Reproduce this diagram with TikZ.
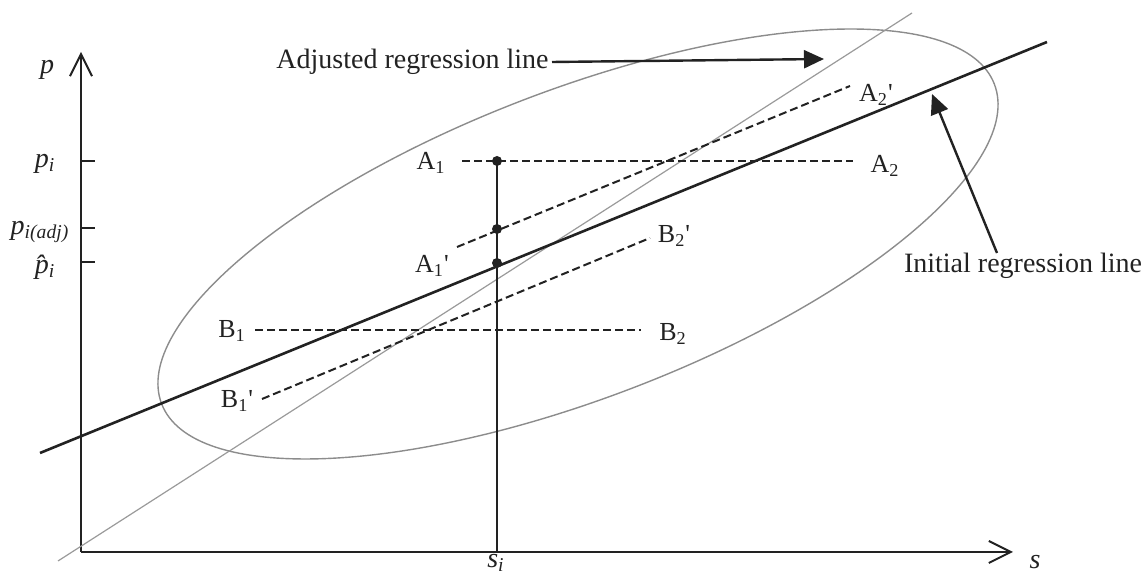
\documentclass[tikz,border=0pt]{standalone}
\usepackage{fontspec}
\setmainfont{Liberation Serif}
\usetikzlibrary{arrows.meta}
\definecolor{ink}{HTML}{222222}
\definecolor{lightline}{HTML}{9A9A9A}
\definecolor{ellcol}{HTML}{8C8C8C}
\begin{document}
\begin{tikzpicture}[x=0.5pt,y=-0.5pt,
  lbl/.style={inner sep=0pt, text=ink, font=\fontsize{13}{15}\selectfont},
  ann/.style={inner sep=0pt, text=ink, font=\fontsize{14}{16}\selectfont},
  axislbl/.style={inner sep=0pt, text=ink, font=\fontsize{14}{16}\selectfont\itshape},
  axisline/.style={draw=ink, line width=1pt, -{Straight Barb[length=11pt,width=11pt,line width=1pt]}},
  tickline/.style={draw=ink, line width=0.9pt},
  initline/.style={draw=ink, line width=1.3pt},
  adjline/.style={draw=lightline, line width=0.6pt},
  dashline/.style={draw=ink, line width=1pt, dash pattern=on 4pt off 2pt},
  ellline/.style={draw=ellcol, line width=0.7pt},
  pointer/.style={draw=ink, line width=1.2pt, -{Triangle[length=10pt,width=9pt]}},
  dot/.style={circle, fill=ink, inner sep=0pt, minimum size=5pt},
]
\useasboundingbox (0,0) rectangle (1148,576);

% axes
\coordinate (O) at (81,552);
\coordinate (ytop) at (81,52);
\coordinate (xend) at (1013,552);
\draw[axisline] (O) -- (ytop);
\draw[axisline] (O) -- (xend);
\node[axislbl] (plbl) at (47,70) {p};
\node[axislbl] (slbl) at (1035,562) {s};
\node[axislbl] (silbl) at (496,563) {s\textsubscript{i}};

% ticks and labels on p-axis
\coordinate (t1a) at (81,161); \coordinate (t1b) at (95,161);
\coordinate (t2a) at (81,228); \coordinate (t2b) at (95,228);
\coordinate (t3a) at (81,262); \coordinate (t3b) at (95,262);
\draw[tickline] (t1a) -- (t1b);
\draw[tickline] (t2a) -- (t2b);
\draw[tickline] (t3a) -- (t3b);
\node[axislbl] (pi) at (45,164) {p\textsubscript{i}};
\node[axislbl] (piadj) at (40,232) {p\textsubscript{i(adj)}};
\node[axislbl] (phat) at (45,267) {\^{p}\textsubscript{i}};

% ellipse
\coordinate (ec) at (578,244);
\draw[ellline, rotate around={21:(ec)}] (ec) ellipse [x radius=223pt, y radius=77pt];

% adjusted regression line (thin grey)
\coordinate (g1) at (58,561);
\coordinate (g2) at (912,13);
\draw[adjline] (g1) -- (g2);

% initial regression line (thick)
\coordinate (r1) at (40,453);
\coordinate (r2) at (1047,42);
\draw[initline] (r1) -- (r2);

% vertical at s_i with dots
\node[dot] (dA) at (497,161) {};
\node[dot] (dM) at (497,229) {};
\node[dot] (dB) at (497,263) {};
\coordinate (sbase) at (497,552);
\draw[ink, line width=1pt] (dA.center) -- (sbase);

% labels of dashed lines
\node[lbl] (A1) at (431,163) {A\textsubscript{1}};
\node[lbl] (A2) at (885,166) {A\textsubscript{2}};
\node[lbl] (A1p) at (432,266) {A\textsubscript{1}\textquotesingle};
\node[lbl] (A2p) at (876,95) {A\textsubscript{2}\textquotesingle};
\node[lbl] (B1) at (232,331) {B\textsubscript{1}};
\node[lbl] (B2) at (673,334) {B\textsubscript{2}};
\node[lbl] (B1p) at (237,401) {B\textsubscript{1}\textquotesingle};
\node[lbl] (B2p) at (674,236) {B\textsubscript{2}\textquotesingle};

% dashed lines
\coordinate (a1s) at (462,161); \coordinate (a2s) at (853,161);
\coordinate (a1ps) at (457,247); \coordinate (a2ps) at (850,86);
\coordinate (b1s) at (255,330); \coordinate (b2s) at (641,330);
\coordinate (b1ps) at (262,399); \coordinate (b2ps) at (650,238);
\draw[dashline] (a1s) -- (a2s);
\draw[dashline] (a1ps) -- (a2ps);
\draw[dashline] (b1s) -- (b2s);
\draw[dashline] (b1ps) -- (b2ps);

% annotations
\node[ann, anchor=east] (adjtxt) at (549,62) {Adjusted regression line};
\coordinate (adjtip) at (824,59);
\draw[pointer] (adjtxt.east) ++(3,0) -- (adjtip);
\node[ann] (inittxt) at (1023,266) {Initial regression line};
\coordinate (inittip) at (932,94);
\coordinate (inittail) at (997,253);
\draw[pointer] (inittail) -- (inittip);
\end{tikzpicture}
\end{document}
